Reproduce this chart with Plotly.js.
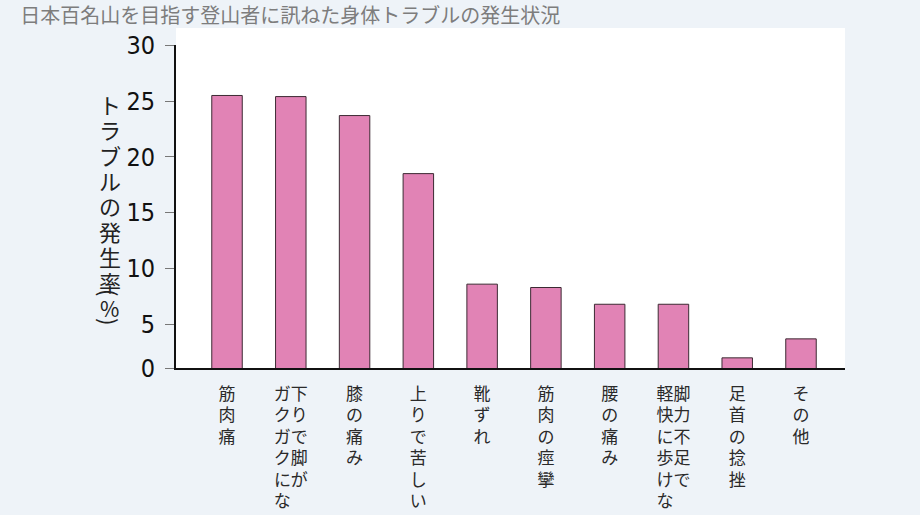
<!DOCTYPE html>
<html>
<head>
<meta charset="utf-8">
<script src="https://cdn.plot.ly/plotly-3.0.1.min.js"></script>
<style>
  html, body { margin: 0; padding: 0; background: #eef3f8; }
  #chart { width: 920px; height: 515px; }
</style>
</head>
<body>
<div id="chart"></div>
<script>
// troubles reported by climbers aiming at the 100 famous mountains
let categories = ['筋肉痛', '下りで脚がガクガクにな', '膝の痛み', '上りで苦しい', '靴ずれ',
    '筋肉の痙攣', '腰の痛み', '脚力不足で軽快に歩けな', '足首の捻挫', 'その他'];
// vertical label columns, right column first (read right to left)
let labelColumns = [
    ['筋肉痛'], ['下りで脚が', 'ガクガクにな'], ['膝の痛み'], ['上りで苦しい'], ['靴ずれ'],
    ['筋肉の痙攣'], ['腰の痛み'], ['脚力不足で', '軽快に歩けな'], ['足首の捻挫'], ['その他']
];
let rates = [25.5, 25.4, 23.7, 18.5, 8.6, 8.3, 6.8, 6.8, 2.0, 3.7];

let yTickVals = [1.09, 5, 10, 15, 20, 25, 30];
let yTickText = ['0', '5', '10', '15', '20', '25', '30'];

// build upright vertical text: one row per character, columns side by side
const verticalLabel = (cols) => {
    let n = Math.max(...cols.map(c => c.length));
    let rows = [];
    for (let i = 0; i < n; i++) {
        let row = '';
        // leftmost column is the last one
        for (let j = cols.length - 1; j >= 0; j--) {
            row += cols[j][i] || '\u3000';
        }
        rows.push('<span style="font-size:17px">' + row + '</span>');
    }
    return rows.join('<br>');
};

let jp = 'Noto Sans CJK JP, sans-serif';
let num = 'DejaVu Sans Condensed, Liberation Sans Narrow, sans-serif';

let bars = {
    x: categories,
    y: rates,
    type: 'bar',
    width: 0.478,
    marker: {
        color: '#e183b5',
        line: {color: '#3c2a33', width: 1}
    },
    hoverinfo: 'x+y'
};

let yTitle = ['ト', 'ラ', 'ブ', 'ル', 'の', '発', '生', '率'];

// small helper for the pieces of the vertical y title
const titlePiece = (text, y, size, angle) => ({
    text: text, xref: 'paper', yref: 'paper', x: -0.0987, y: y,
    xanchor: 'center', yanchor: 'middle', showarrow: false, textangle: angle || 0,
    font: {family: jp, size: size, color: '#222222'}
});

let layout = {
    width: 920,
    height: 515,
    paper_bgcolor: '#eef3f8',
    plot_bgcolor: '#ffffff',
    margin: {l: 176, r: 75, t: 45, b: 147},
    showlegend: false,
    title: {
        text: '日本百名山を目指す登山者に訊ねた身体トラブルの発生状況',
        font: {family: jp, size: 20, color: '#7d7d7d'},
        x: 0.022, xanchor: 'left', xref: 'container',
        y: 0.968, yanchor: 'middle', yref: 'container'
    },
    xaxis: {
        type: 'category',
        range: [-0.8, 9.69],
        tickmode: 'array',
        tickvals: categories,
        ticktext: labelColumns.map(verticalLabel),
        ticks: '',
        ticklabelstandoff: 10,
        tickfont: {family: jp, size: 16.5, color: '#2a2a2a'},
        showline: true,
        linecolor: '#111111',
        linewidth: 2,
        showgrid: false,
        zeroline: false,
        automargin: false,
        fixedrange: true
    },
    yaxis: {
        range: [1.09, 30.02],
        tickmode: 'array',
        tickvals: yTickVals,
        ticktext: yTickText,
        ticks: 'outside',
        ticklen: 9,
        tickwidth: 1,
        tickcolor: '#777777',
        ticklabelstandoff: 5,
        tickfont: {family: num, size: 25, color: '#111111'},
        showline: true,
        linecolor: '#111111',
        linewidth: 2,
        showgrid: false,
        zeroline: false,
        automargin: false,
        fixedrange: true
    },
    shapes: [{
        type: 'rect', xref: 'paper', yref: 'paper',
        x0: 0, x1: 1, y0: 1, y1: 1.0526,
        fillcolor: '#ffffff', line: {width: 0}, layer: 'below'
    }],
    annotations: [
        titlePiece(yTitle.map(c => '<span style="font-size:22px">' + c + '</span>').join('<br>'), 0.5418, 19.5),
        titlePiece('(', 0.232, 22, 90),
        titlePiece('%', 0.1858, 21),
        titlePiece(')', 0.1424, 22, 90)
    ]
};

Plotly.newPlot('chart', [bars], layout, {displayModeBar: false, staticPlot: true});
</script>
</body>
</html>
